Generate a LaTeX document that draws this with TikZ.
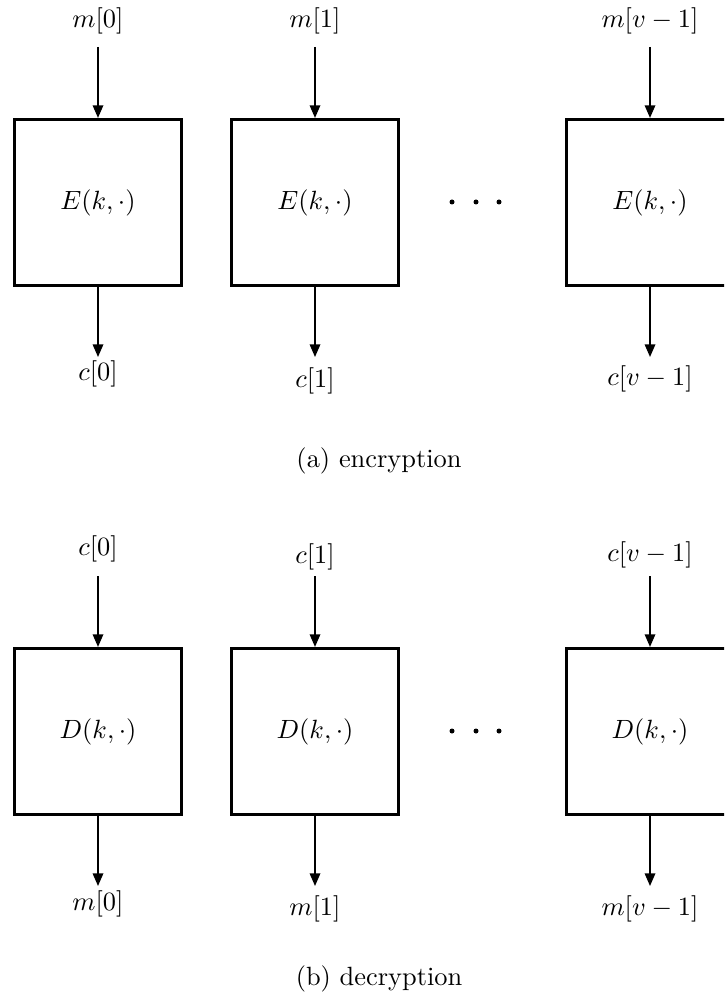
\documentclass[tikz,border=0pt]{standalone}
\usetikzlibrary{arrows.meta}
\begin{document}
\begin{tikzpicture}[x=0.379pt,y=-0.379pt,
  blk/.style={draw,line width=1.1pt,minimum size=63pt,inner sep=0pt},
  arr/.style={-{Triangle[length=4.8pt,width=4pt]},line width=0.6pt},
  lbl/.style={inner sep=0pt},
  dotf/.style={fill=black}]
\useasboundingbox (0,0) rectangle (724,1008);
\begin{scope}
\clip (0,0) rectangle (724,1008);
% ---------- encryption ----------
\node[blk] (E0) at (98,202.5) {$E(k,\cdot)$};
\node[blk] (E1) at (315,202.5) {$E(k,\cdot)$};
\node[blk] (E2) at (650,202.5) {$E(k,\cdot)$};
\node[lbl] (m0) at (98,21) {$m[0]$};
\node[lbl] (m1) at (315,21) {$m[1]$};
\node[lbl] (m2) at (650,21) {$m[v-1]$};
\coordinate (sa0) at (98,47);
\coordinate (sa1) at (315,47);
\coordinate (sa2) at (650,47);
\draw[arr] (sa0) -- (E0);
\draw[arr] (sa1) -- (E1);
\draw[arr] (sa2) -- (E2);
\coordinate (ta0) at (98,357);
\coordinate (ta1) at (315,357);
\coordinate (ta2) at (650,357);
\draw[arr] (E0) -- (ta0);
\draw[arr] (E1) -- (ta1);
\draw[arr] (E2) -- (ta2);
\node[lbl] (c0) at (98,374) {$c[0]$};
\node[lbl] (c1) at (315,381) {$c[1]$};
\node[lbl] (c2) at (650,379) {$c[v-1]$};
\fill[dotf] (452,202) circle (2.5);
\fill[dotf] (476,202) circle (2.5);
\fill[dotf] (499,202) circle (2.5);
\node[lbl] (capa) at (379,461) {(a) encryption};
% ---------- decryption ----------
\node[blk] (D0) at (98,731.5) {$D(k,\cdot)$};
\node[blk] (D1) at (315,731.5) {$D(k,\cdot)$};
\node[blk] (D2) at (650,731.5) {$D(k,\cdot)$};
\node[lbl] (cc0) at (98,549) {$c[0]$};
\node[lbl] (cc1) at (315,557) {$c[1]$};
\node[lbl] (cc2) at (650,555) {$c[v-1]$};
\coordinate (sb0) at (98,576);
\coordinate (sb1) at (315,576);
\coordinate (sb2) at (650,576);
\draw[arr] (sb0) -- (D0);
\draw[arr] (sb1) -- (D1);
\draw[arr] (sb2) -- (D2);
\coordinate (tb0) at (98,886);
\coordinate (tb1) at (315,886);
\coordinate (tb2) at (650,886);
\draw[arr] (D0) -- (tb0);
\draw[arr] (D1) -- (tb1);
\draw[arr] (D2) -- (tb2);
\node[lbl] (mm0) at (98,904) {$m[0]$};
\node[lbl] (mm1) at (315,909) {$m[1]$};
\node[lbl] (mm2) at (650,909) {$m[v-1]$};
\fill[dotf] (452,731) circle (2.5);
\fill[dotf] (476,731) circle (2.5);
\fill[dotf] (499,731) circle (2.5);
\node[lbl] (capb) at (379,979) {(b) decryption};
\end{scope}
\end{tikzpicture}
\end{document}
